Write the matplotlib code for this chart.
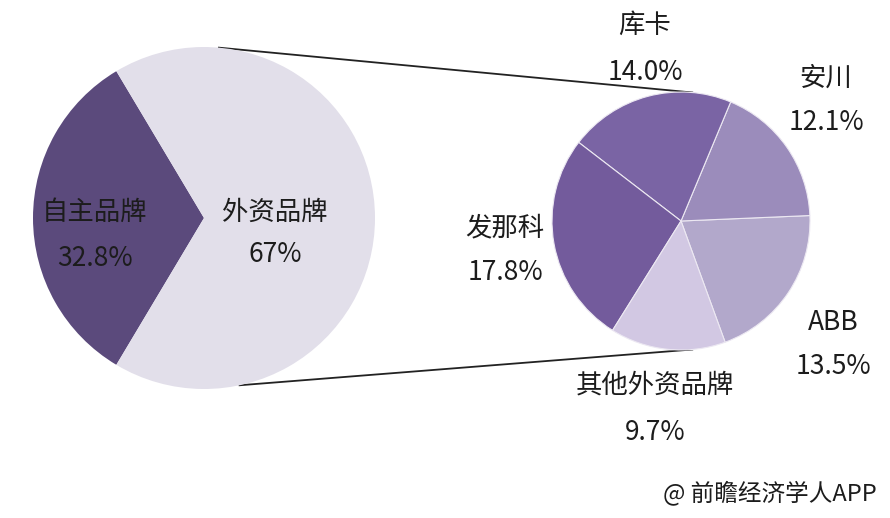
import matplotlib.pyplot as plt
import numpy as np

plt.rcParams['font.family'] = ['Noto Sans CJK SC', 'DejaVu Sans']

# left pie: domestic vs foreign brands
main_labels = ["自主品牌", "外资品牌"]
main_values = [32.8, 67.0]
main_text = ["32.8%", "67%"]

# right pie: breakdown of foreign brands (counter-clockwise order)
sub_labels = ["ABB", "安川", "库卡", "发那科", "其他外资品牌"]
sub_values = [13.5, 12.1, 14.0, 17.8, 9.7]
sub_text = ["13.5%", "12.1%", "14.0%", "17.8%", "9.7%"]

W, H = 890, 518
fig = plt.figure(figsize=(W / 100, H / 100), dpi=100)
ax = fig.add_axes([0, 0, 1, 1])

# layout (pixel coords, y up)
c1, r1 = (204, 300), 171
c2, r2 = (681, 297), 129
main_colors = ["#5b4a7c", "#e2dfea"]
sub_colors = ["#b2a8cb", "#9b8cbb", "#7a64a4", "#735b9c", "#d2c8e3"]

start1 = 180 - main_values[0] / sum(main_values) * 360 / 2
ax.pie(main_values, colors=main_colors, startangle=start1, center=c1, radius=r1,
       wedgeprops=dict(linewidth=0))
ax.pie(sub_values, colors=sub_colors, startangle=-70, center=c2, radius=r2,
       wedgeprops=dict(edgecolor="#ece8f2", linewidth=0.8))

# connector lines between the pies
for a1, a2 in [(85, 85), (-78, -85)]:
    p1 = (c1[0] + r1 * np.cos(np.radians(a1)), c1[1] + r1 * np.sin(np.radians(a1)))
    p2 = (c2[0] + r2 * np.cos(np.radians(a2)), c2[1] + r2 * np.sin(np.radians(a2)))
    ax.plot([p1[0], p2[0]], [p1[1], p2[1]], color="#222222", lw=1.3, zorder=0)

fs = 19
tc = "#1c1c1c"
main_pos = [(95, 306, 260), (275, 306, 263)]
for (x, y1, y2), lab, t in zip(main_pos, main_labels, main_text):
    ax.text(x, y1, lab, fontsize=fs, color=tc, ha="center", va="center")
    ax.text(x, y2, t, fontsize=fs, color=tc, ha="center", va="center")

sub_pos = [(833, 196, 151), (826, 440, 396), (645, 493, 446),
           (505, 290, 245), (655, 133, 86)]
for (x, y1, y2), lab, t in zip(sub_pos, sub_labels, sub_text):
    ax.text(x, y1, lab, fontsize=fs, color=tc, ha="center", va="center")
    ax.text(x, y2, t, fontsize=fs, color=tc, ha="center", va="center")

ax.text(877, 25, "@ 前瞻经济学人APP", fontsize=17, color=tc, ha="right", va="center")

ax.set_xlim(0, W)
ax.set_ylim(0, H)
ax.set_aspect("equal")
ax.axis("off")
fig.savefig("out.png", dpi=100, facecolor="white")
